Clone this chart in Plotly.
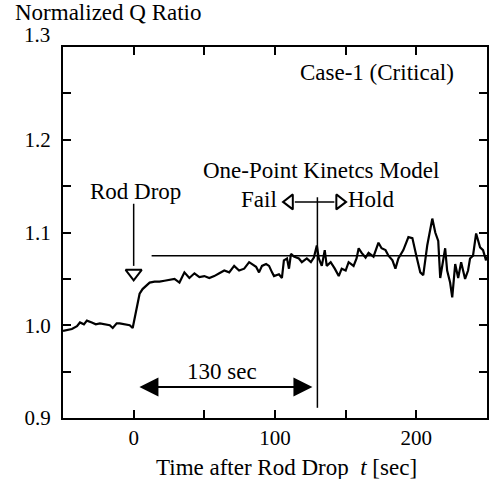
import plotly.graph_objects as go

# ---- data ----
t_sec = [-50.0, -47.2, -43.7, -40.1, -38.0, -35.2, -33.1, -29.6, -26.8, -23.9, -20.4, -16.9, -14.8, -12.0, -9.9,
         -6.3, -2.8, -0.7, 0.7, 2.1, 4.2, 6.3, 9.2, 11.3, 14.8, 18.3, 21.8, 25.4, 28.9, 32.4, 35.9, 39.4, 43.0,
         46.5, 50.0, 53.5, 57.0, 60.6, 64.1, 67.6, 71.1, 74.6, 78.2, 81.7, 83.8, 86.6, 88.7, 90.8, 93.7, 95.8,
         97.9, 99.3, 102.8, 104.9, 106.3, 108.5, 109.9, 111.3, 113.4, 116.9, 119.0, 122.5, 125.4, 127.5, 129.6,
         131.0, 133.1, 135.2, 136.6, 139.4, 142.3, 145.1, 147.2, 150.0, 152.1, 155.6, 157.7, 159.2, 161.3, 164.1,
         166.2, 169.7, 173.2, 175.4, 178.2, 180.3, 183.1, 185.2, 187.3, 190.8, 194.4, 197.2, 200.0, 202.8, 204.9,
         207.7, 211.3, 213.4, 215.5, 216.9, 220.4, 221.8, 223.9, 225.4, 227.5, 229.6, 231.7, 234.5, 236.6, 238.0,
         240.1, 242.3, 245.1, 247.2, 249.3, 250.0]
q_ratio = [0.994, 0.995, 0.996, 0.999, 1.003, 1.001, 1.005, 1.003, 1.001, 1.002, 1.001, 1.000, 0.997, 1.002, 1.002,
           1.001, 1.000, 0.997, 1.007, 1.016, 1.034, 1.039, 1.043, 1.046, 1.047, 1.047, 1.048, 1.049, 1.050, 1.046,
           1.057, 1.051, 1.056, 1.052, 1.053, 1.051, 1.053, 1.056, 1.059, 1.057, 1.064, 1.059, 1.061, 1.068, 1.066,
           1.063, 1.057, 1.064, 1.066, 1.064, 1.057, 1.053, 1.055, 1.051, 1.070, 1.072, 1.061, 1.077, 1.074, 1.072,
           1.068, 1.072, 1.068, 1.073, 1.086, 1.072, 1.064, 1.081, 1.064, 1.068, 1.061, 1.053, 1.061, 1.059, 1.068,
           1.064, 1.072, 1.083, 1.078, 1.073, 1.078, 1.074, 1.089, 1.083, 1.081, 1.075, 1.070, 1.061, 1.072, 1.081,
           1.095, 1.094, 1.075, 1.057, 1.054, 1.086, 1.115, 1.100, 1.091, 1.051, 1.083, 1.059, 1.046, 1.030, 1.066,
           1.051, 1.068, 1.050, 1.059, 1.072, 1.075, 1.099, 1.084, 1.081, 1.070, 1.074]

x_tickvals = [-50, 0, 50, 100, 150, 200, 250]
x_ticktext = ["", "0", "", "100", "", "200", ""]
y_tickvals = [0.9, 0.95, 1.0, 1.05, 1.1, 1.15, 1.2, 1.25, 1.3]
y_ticktext = ["0.9", "", "1.0", "", "1.1", "", "1.2", "", ""]

rod_drop_t = 0
criterion_t = 130
hold_level = 1.075

FONT = "Liberation Serif"
fig = go.Figure()
fig.add_trace(go.Scatter(x=t_sec, y=q_ratio, mode="lines",
                         line=dict(color="black", width=2.2), hoverinfo="skip", showlegend=False))

# hollow arrowheads
fig.add_trace(go.Scatter(x=[rod_drop_t], y=[1.056], mode="markers", showlegend=False, hoverinfo="skip",
                         marker=dict(symbol="triangle-down-open", size=14, color="black", line=dict(width=2))))
fig.add_trace(go.Scatter(x=[110.3, 145.7], y=[1.133, 1.133], mode="markers", showlegend=False, hoverinfo="skip",
                         marker=dict(symbol=["triangle-left-open", "triangle-right-open"], size=13, color="black",
                                     line=dict(width=2))))

shapes = [
    dict(type="line", x0=12.7, x1=250, y0=hold_level, y1=hold_level, line=dict(color="black", width=1.5)),
    dict(type="line", x0=criterion_t, x1=criterion_t, y0=0.911, y1=1.138, line=dict(color="black", width=1.5)),
    dict(type="line", x0=rod_drop_t, x1=rod_drop_t, y0=1.131, y1=1.064, line=dict(color="black", width=1.5)),
    dict(type="line", x0=114.0, x1=142.0, y0=1.133, y1=1.133, line=dict(color="black", width=1.5)),
]

tf = dict(family=FONT, size=23, color="black")
annotations = [
    dict(x=126.5, y=0.9335, ax=3, ay=0.9335, axref="x", ayref="y", xref="x", yref="y", text="",
         showarrow=True, arrowhead=2, arrowside="end+start", arrowsize=1.9, arrowwidth=2, arrowcolor="black"),
    dict(x=62.7, y=0.950, xref="x", yref="y", text="130 sec", showarrow=False, font=tf),
    dict(x=1, y=1.144, xref="x", yref="y", text="Rod Drop", showarrow=False, font=tf),
    dict(x=132.4, y=1.167, xref="x", yref="y", text="One-Point Kinetcs Model", showarrow=False, font=tf),
    dict(x=103, y=1.136, xref="x", yref="y", text="Fail", xanchor="right", showarrow=False, font=tf),
    dict(x=150.5, y=1.136, xref="x", yref="y", text="Hold", xanchor="left", showarrow=False, font=tf),
    dict(x=172, y=1.272, xref="x", yref="y", text="Case-1 (Critical)", showarrow=False, font=tf),
    dict(x=-50 / 426, y=1 + 34 / 371, xref="paper", yref="paper", text="Normalized Q Ratio",
         xanchor="left", yanchor="middle", showarrow=False, font=tf),
    dict(x=-11 / 426, y=1 + 12 / 371, xref="paper", yref="paper", text="1.3",
         xanchor="right", yanchor="middle", showarrow=False, font=dict(family=FONT, size=21, color="black")),
    dict(x=0.528, y=-49 / 371, xref="paper", yref="paper",
         text="Time after Rod Drop\u00a0\u00a0<i>t</i> [sec]",
         xanchor="center", yanchor="middle", showarrow=False, font=tf),
]

axis_common = dict(showline=True, linecolor="black", linewidth=2, mirror="ticks", ticks="inside",
                   ticklen=8, tickwidth=1.5, tickcolor="black", showgrid=False, zeroline=False,
                   tickfont=dict(family=FONT, size=21, color="black"))

fig.update_layout(
    width=491, height=479,
    margin=dict(l=63, r=2, t=47, b=61),
    paper_bgcolor="white", plot_bgcolor="white",
    xaxis=dict(range=[-50, 250], tickmode="array", tickvals=x_tickvals, ticktext=x_ticktext,
               ticklabelstandoff=0, **axis_common),
    yaxis=dict(range=[0.9, 1.3], tickmode="array", tickvals=y_tickvals, ticktext=y_ticktext,
               ticklabelstandoff=6, **axis_common),
    shapes=shapes, annotations=annotations,
)
fig.write_html("out.html")
